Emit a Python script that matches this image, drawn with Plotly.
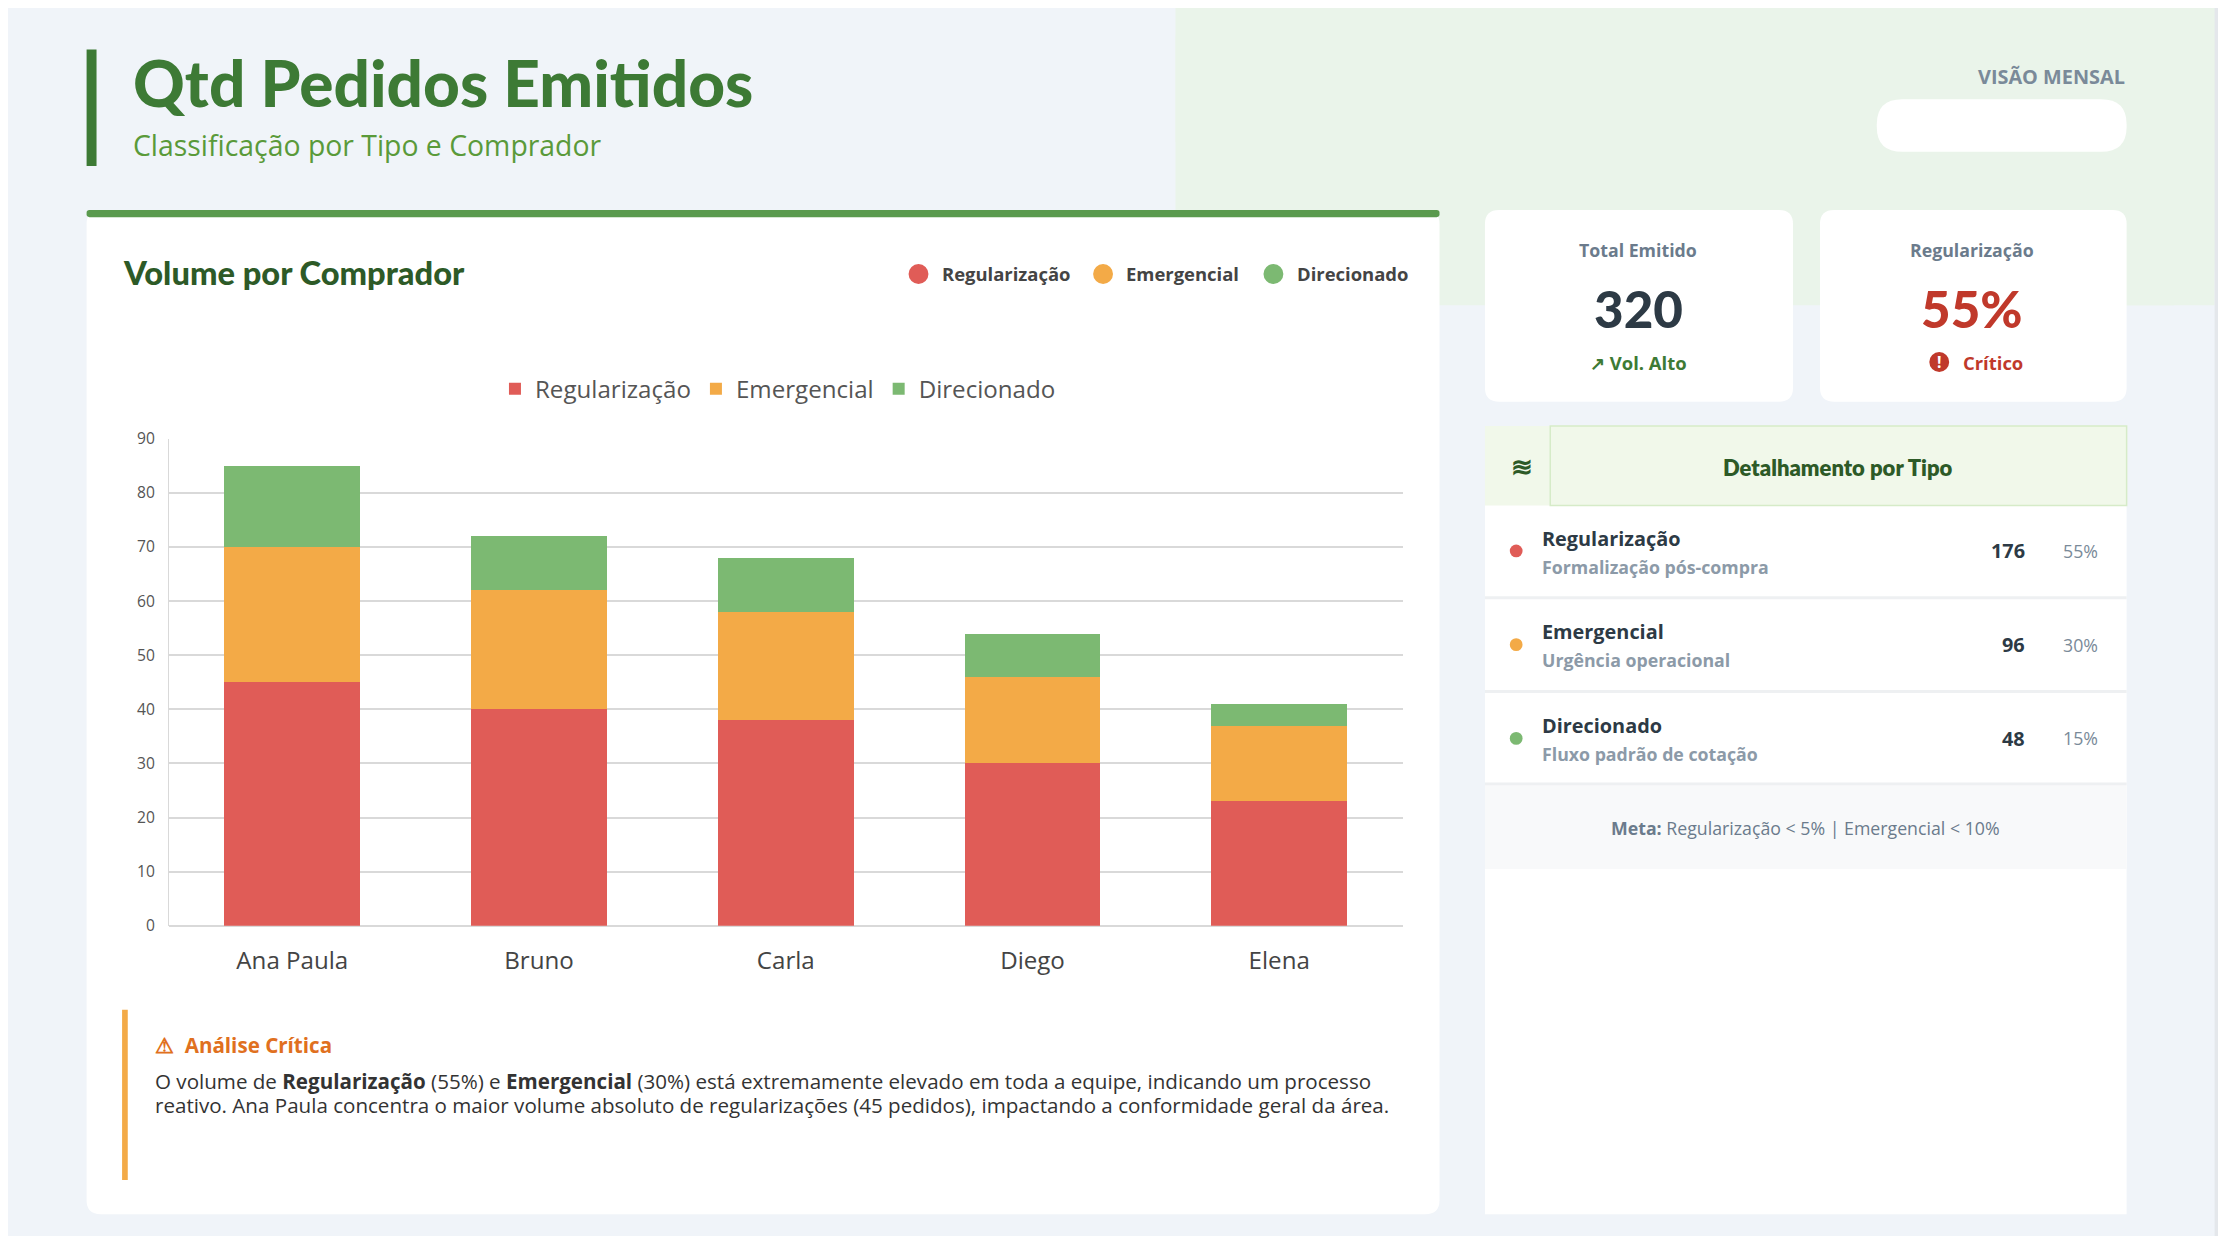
import plotly.graph_objects as go

compradores = ["Ana Paula", "Bruno", "Carla", "Diego", "Elena"]
regularizacao = [45, 40, 38, 30, 23]
emergencial = [25, 22, 20, 16, 14]
direcionado = [15, 10, 10, 8, 4]
tipos = ["Regularização", "Emergencial", "Direcionado"]
tipo_desc = ["Formalização pós-compra", "Urgência operacional", "Fluxo padrão de cotação"]
tipo_qtd = [176, 96, 48]
tipo_pct = ["55%", "30%", "15%"]
y_ticks = [0, 10, 20, 30, 40, 50, 60, 70, 80, 90]

W, H = 2226, 1244
M = 8  # page body margin
FW, FH = W - 2 * M, H - 2 * M
S = W / 1568.0
RED, ORANGE, GREEN = "#e05c57", "#f3aa47", "#7cb972"


def px(x):
    return (x * S - M) / FW


def py(y):
    y = (y - 8.64) / 0.9817
    return 1 - (y * S - M) / FH


fig = go.Figure()
for name, vals, col in zip(tipos, [regularizacao, emergencial, direcionado], [RED, ORANGE, GREEN]):
    fig.add_trace(go.Bar(x=compradores, y=vals, name=name, marker_color=col,
                         marker_line_width=0, width=0.55))

shapes = []


def rect(x0, y0, x1, y1, fill, line=None, lw=0, r=0):
    if r == 0:
        shapes.append(dict(type="rect", xref="paper", yref="paper", x0=px(x0), x1=px(x1),
                           y0=py(y1), y1=py(y0), fillcolor=fill,
                           line=dict(color=line or fill, width=lw), layer="below"))
        return
    rx, ry = r * S / FW, r * S / FH
    a, b, c, d = px(x0), px(x1), py(y0), py(y1)
    path = (f"M {a+rx} {c} L {b-rx} {c} Q {b} {c} {b} {c-ry} L {b} {d+ry} Q {b} {d} {b-rx} {d} "
            f"L {a+rx} {d} Q {a} {d} {a} {d+ry} L {a} {c-ry} Q {a} {c} {a+rx} {c} Z")
    shapes.append(dict(type="path", xref="paper", yref="paper", path=path, fillcolor=fill,
                       line=dict(color=line or fill, width=lw), layer="below"))


def circle(cx, cy, r, fill):
    shapes.append(dict(type="circle", xref="paper", yref="paper", x0=px(cx - r), x1=px(cx + r),
                       y0=py(cy + r), y1=py(cy - r), fillcolor=fill, line=dict(width=0)))


ann = []


def text(x, y, t, size, color, anchor="left", family="Open Sans", weight=None):
    f = dict(size=size * S, color=color, family=family)
    if weight:
        f["weight"] = weight
    ann.append(dict(xref="paper", yref="paper", x=px(x), y=py(y), text=t, showarrow=False,
                    xanchor=anchor, yanchor="middle", font=f))


# background pieces
rect(828, 0, 1560, 215, "#eaf4ea", r=30)
rect(828, 0, 1560, 100, "#eaf4ea")
rect(1460, 0, 1560, 215, "#eaf4ea")
rect(0, 0, 1568, 3, "#dddddd")
rect(1560, 0, 1568, 876, "#e4e7eb")
rect(61, 35, 68, 117, "#3d7a35")
rect(1322, 70, 1498, 107, "#ffffff", r=18)
# main card
rect(61, 148, 1014, 855, "#ffffff", r=10)
rect(61, 148, 1014, 153, "#5a9a4e", r=2)
rect(86, 711, 90, 831, "#f3aa47")
# kpi cards
rect(1046, 148, 1263, 283, "#ffffff", r=10)
rect(1282, 148, 1498, 283, "#ffffff", r=10)
# detail panel
rect(1046, 300, 1498, 855, "#ffffff")
rect(1046, 300, 1498, 356, "#f1f8ea")
rect(1092, 300, 1498, 356, "#f1f8ea", "#d6ebc8", 1.5)
rect(1046, 552, 1498, 612, "#f8f9fa")
for yy in [421, 487, 552]:
    rect(1046, yy - 1, 1498, yy + 1, "#eef0f2")

text(92, 58, "Qtd Pedidos Emitidos", 45, "#3d7a35", family="Lato", weight=900)
text(92, 102, "Classificação por Tipo e Comprador", 20, "#5a9a3a")
text(1498, 54, "<b>VISÃO MENSAL</b>", 14, "#7a8a99", "right")
text(85, 192, "Volume por Comprador", 23, "#2d5a27", family="Lato", weight=900)
for cx, t, c in zip([647, 777, 897], tipos, [RED, ORANGE, GREEN]):
    circle(cx, 193, 7, c)
    text(cx + 15, 193, "<b>" + t + "</b>", 13, "#444444")

text(108, 736, "<b>⚠  Análise Crítica</b>", 14.5, "#e07020")
text(108, 761, "O volume de <b>Regularização</b> (55%) e <b>Emergencial</b> (30%) está extremamente elevado em toda a equipe, indicando um processo", 14.5, "#333333")
text(108, 778, "reativo. Ana Paula concentra o maior volume absoluto de regularizações (45 pedidos), impactando a conformidade geral da área.", 14.5, "#333333")

text(1154, 176, "<b>Total Emitido</b>", 12.5, "#6b7b8c", "center")
text(1154, 217, "%d" % sum(tipo_qtd), 36, "#2d3a45", "center", family="Lato", weight=900)
text(1154, 255, "<b>↗ Vol. Alto</b>", 13, "#3d7a35", "center")
text(1389, 176, "<b>Regularização</b>", 12.5, "#6b7b8c", "center")
text(1389, 217, tipo_pct[0], 36, "#c0392b", "center", family="Lato", weight=900)
circle(1366, 255, 7, "#c0392b")
text(1366, 255, "<b>!</b>", 11, "#ffffff", "center")
text(1381, 255, "<b>Crítico</b>", 13, "#c0392b")

text(1072, 328, "<b>≋</b>", 18, "#2d5a27", "center")
text(1295, 329, "Detalhamento por Tipo", 15.5, "#2d5a27", "center", family="Lato", weight=800)
for i, (t, d, q, p, c) in enumerate(zip(tipos, tipo_desc, tipo_qtd, tipo_pct, [RED, ORANGE, GREEN])):
    y0 = 388 + i * 66
    circle(1068, y0, 4.5, c)
    text(1085, y0 - 9, "<b>" + t + "</b>", 14, "#2d3a45")
    text(1085, y0 + 11, "<b>" + d + "</b>", 12.5, "#8c9aa8")
    text(1428, y0, "<b>%d</b>" % q, 14, "#2d3a45", "right")
    text(1479, y0, p, 12.5, "#7a8a99", "right")
text(1272, 583, "<b>Meta:</b> Regularização < 5% | Emergencial < 10%", 12.5, "#6b7b8c", "center")

fig.update_layout(
    width=FW, height=FH, margin=dict(l=0, r=0, t=0, b=0),
    paper_bgcolor="#f0f4f9", plot_bgcolor="#ffffff",
    barmode="stack", bargap=0.45,
    shapes=shapes, annotations=ann,
    legend=dict(orientation="h", x=px(548), y=py(274), xanchor="center", yanchor="middle",
                traceorder="normal",
                font=dict(size=17 * S, color="#555555", family="Open Sans"),
                bgcolor="rgba(0,0,0,0)", itemsizing="constant"),
    xaxis=dict(domain=[px(119), px(988)], anchor="y", showline=False,
               tickfont=dict(size=17 * S, color="#444444", family="Open Sans"), ticks="",
               ticklabelstandoff=18),
    yaxis=dict(domain=[py(652), py(309)], range=[0, 90], tickvals=y_ticks,
               showgrid=True, gridcolor="#d9d9d9", gridwidth=1.5, zeroline=True,
               zerolinecolor="#d9d9d9", showline=True, linecolor="#d9d9d9",
               tickfont=dict(size=11 * S, color="#555555", family="Open Sans"),
               ticks="", ticklabelstandoff=10),
)
fig.write_html("out.html")
